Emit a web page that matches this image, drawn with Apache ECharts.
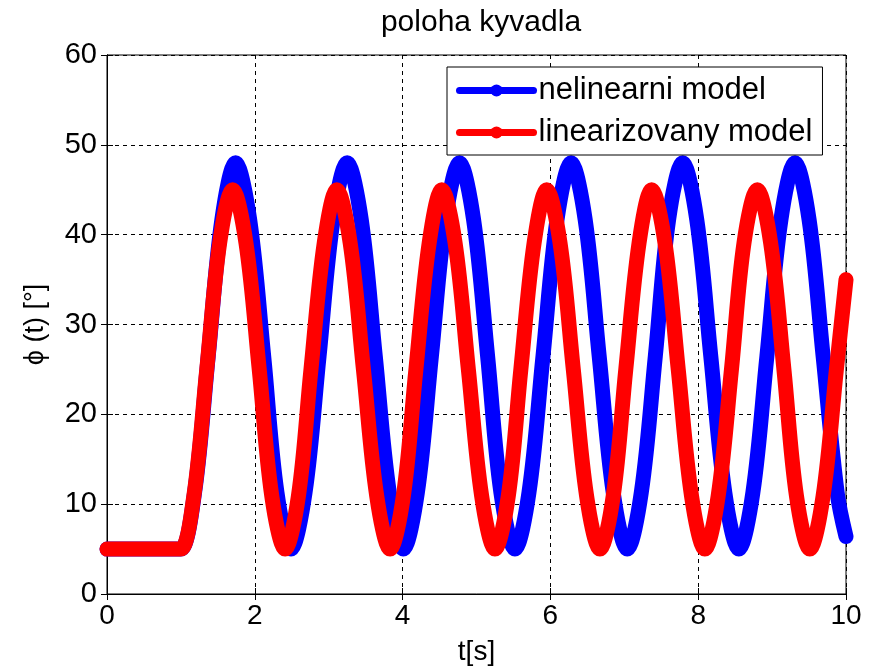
<!DOCTYPE html>
<html>
<head>
<meta charset="utf-8">
<title>poloha kyvadla</title>
<script src="https://cdn.jsdelivr.net/npm/echarts@6/dist/echarts.min.js"></script>
<style>
  html, body { margin: 0; padding: 0; background: #fff; }
  #chart { width: 874px; height: 671px; }
</style>
</head>
<body>
<div id="chart"></div>
<script>
// nelinearni model (blue): time [s] and angle [deg]
const tNonlinear = [0, 0.9, 1.0, 1.185, 1.37, 1.555, 1.74, 1.93, 2.12, 2.30, 2.49, 2.68, 2.87, 3.06, 3.25,
  3.44, 3.63, 3.82, 4.01, 4.20, 4.39, 4.58, 4.77, 4.96, 5.15, 5.33, 5.52, 5.71, 5.90, 6.09, 6.28,
  6.47, 6.66, 6.85, 7.04, 7.23, 7.42, 7.60, 7.79, 7.98, 8.17, 8.36, 8.55, 8.74, 8.93, 9.12, 9.31,
  9.50, 9.69, 9.88, 10.0];
const phiNonlinear = [5, 5, 5, 11.3, 26.5, 41.7, 48, 41.7, 26.5, 11.3, 5, 11.3, 26.5, 41.7, 48,
  41.7, 26.5, 11.3, 5, 11.3, 26.5, 41.7, 48, 41.7, 26.5, 11.3, 5, 11.3, 26.5, 41.7, 48,
  41.7, 26.5, 11.3, 5, 11.3, 26.5, 41.7, 48, 41.7, 26.5, 11.3, 5, 11.3, 26.5, 41.7, 48,
  41.7, 26.5, 11.3, 6.4];

// linearizovany model (red)
const tLinear = [0, 0.9, 1.0, 1.175, 1.35, 1.525, 1.70, 1.88, 2.06, 2.23, 2.41, 2.59, 2.76, 2.94, 3.11,
  3.29, 3.47, 3.65, 3.83, 4.01, 4.18, 4.36, 4.53, 4.71, 4.89, 5.07, 5.25, 5.43, 5.60, 5.78, 5.95,
  6.13, 6.31, 6.49, 6.67, 6.85, 7.02, 7.20, 7.37, 7.55, 7.73, 7.91, 8.09, 8.27, 8.45, 8.62, 8.80,
  8.98, 9.16, 9.33, 9.51, 9.69, 9.87, 10.0];
const phiLinear = [5, 5, 5, 10.9, 25, 39.1, 45, 39.1, 25, 10.9, 5, 10.9, 25, 39.1, 45,
  39.1, 25, 10.9, 5, 10.9, 25, 39.1, 45, 39.1, 25, 10.9, 5, 10.9, 25, 39.1, 45,
  39.1, 25, 10.9, 5, 10.9, 25, 39.1, 45, 39.1, 25, 10.9, 5, 10.9, 25, 39.1, 45,
  39.1, 25, 10.9, 5, 10.9, 25, 35];

const seriesNames = ["nelinearni model", "linearizovany model"];
const titleText = "poloha kyvadla";
const xName = "t[s]";
const yName = "ϕ (t) [°]";

const font = "'Liberation Sans', Arial, sans-serif";
const dashed = { show: true, lineStyle: { color: "#000", type: [4, 4], width: 1 } };

function pairs(ts, vs) {
  return ts.map((t, i) => [t, vs[i]]);
}

const chart = echarts.init(document.getElementById("chart"));

chart.setOption({
  backgroundColor: "#fff",
  animation: false,
  textStyle: { fontFamily: font },
  title: {
    text: titleText,
    left: 476,
    textAlign: "center",
    top: 3,
    textStyle: { fontSize: 30, fontWeight: "normal", color: "#000", fontFamily: font },
  },
  grid: {
    left: 107, right: 28, top: 55, bottom: 75,
    show: true, borderColor: "#000", borderWidth: 1, backgroundColor: "#fff",
  },
  legend: {
    data: seriesNames,
    orient: "vertical",
    left: 447,
    top: 67,
    padding: [8, 10, 7, 9],
    itemGap: 11,
    itemWidth: 74,
    itemHeight: 15,
    backgroundColor: "#fff",
    borderColor: "#000",
    borderWidth: 1,
    borderRadius: 0,
    lineStyle: { width: 7 },
    textStyle: { fontSize: 31, color: "#000", fontFamily: font },
  },
  xAxis: [
    {
      type: "value",
      min: 0, max: 10, interval: 2,
      name: xName,
      nameLocation: "middle",
      nameGap: 44,
      nameTextStyle: { fontSize: 28, color: "#000", fontFamily: font },
      axisLine: { show: true, onZero: false, lineStyle: { color: "#000", width: 1 } },
      axisTick: { show: true, inside: true, length: 6, lineStyle: { color: "#000" } },
      axisLabel: { fontSize: 28, color: "#000", margin: 8, fontFamily: font },
      splitLine: dashed,
    },
    {
      type: "value", position: "top",
      min: 0, max: 10, interval: 2,
      axisLine: { show: true, lineStyle: { color: "#000" } },
      axisTick: { show: true, inside: true, length: 6, lineStyle: { color: "#000" } },
      axisLabel: { show: false },
      splitLine: { show: false },
    },
  ],
  yAxis: [
    {
      type: "value",
      min: 0, max: 60, interval: 10,
      name: yName,
      nameLocation: "middle",
      nameGap: 58,
      nameTextStyle: { fontSize: 27, color: "#000", fontFamily: font },
      axisLine: { show: true, onZero: false, lineStyle: { color: "#000", width: 1 } },
      axisTick: { show: true, inside: true, length: 6, lineStyle: { color: "#000" } },
      axisLabel: { fontSize: 29, color: "#000", margin: 10, fontFamily: font },
      splitLine: dashed,
    },
    {
      type: "value", position: "right",
      min: 0, max: 60, interval: 10,
      axisLine: { show: true, lineStyle: { color: "#000" } },
      axisTick: { show: true, inside: true, length: 6, lineStyle: { color: "#000" } },
      axisLabel: { show: false },
      splitLine: { show: false },
    },
  ],
  series: [
    {
      name: seriesNames[0],
      type: "line",
      data: pairs(tNonlinear, phiNonlinear),
      smooth: 0.35,
      symbol: "circle",
      symbolSize: 15,
      showSymbol: false,
      clip: false,
      color: "#0000ff",
      lineStyle: { color: "#0000ff", width: 15, cap: "round", join: "round" },
      z: 2,
    },
    {
      name: seriesNames[1],
      type: "line",
      data: pairs(tLinear, phiLinear),
      smooth: 0.35,
      symbol: "circle",
      symbolSize: 15,
      showSymbol: false,
      clip: false,
      color: "#ff0000",
      lineStyle: { color: "#ff0000", width: 15, cap: "round", join: "round" },
      z: 3,
    },
  ],
});
</script>
</body>
</html>
